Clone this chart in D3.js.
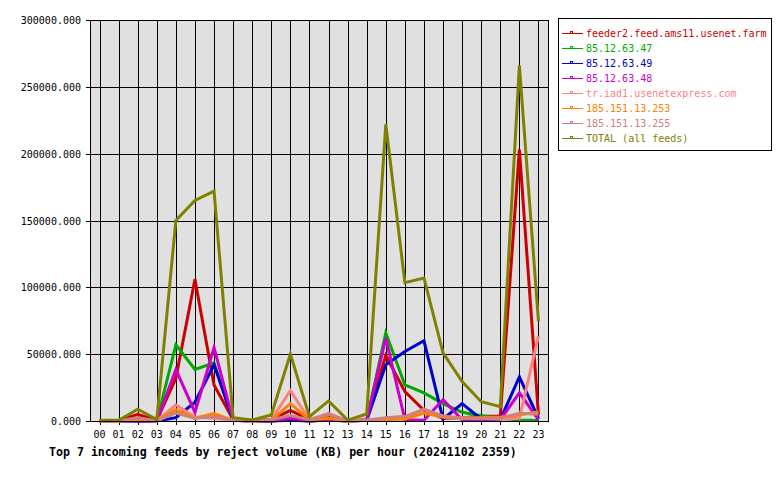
<!DOCTYPE html>
<html>
<head>
<meta charset="utf-8">
<script src="https://cdn.jsdelivr.net/npm/d3@7"></script>
<style>
  body { margin: 0; background: #fff; }
  text { font-family: "DejaVu Sans Mono", monospace; }
</style>
</head>
<body>
<svg id="chart" width="780" height="480"></svg>
<script>
// hours of the day
const hours = ['00','01','02','03','04','05','06','07','08','09','10','11',
               '12','13','14','15','16','17','18','19','20','21','22','23'];

const feedNames = ['feeder2.feed.ams11.usenet.farm', '85.12.63.47', '85.12.63.49', '85.12.63.48',
                   'tr.iad1.usenetexpress.com', '185.151.13.253', '185.151.13.255', 'TOTAL (all feeds)'];
const feedColors = ['#cc0000', '#00aa00', '#0000cc', '#cc00cc', '#ff8080', '#ff8000', '#cc8080', '#808000'];

// reject volume (KB) per hour
const feeder2 = [300, 300, 5000, 500, 32000, 106000, 27000, 1000, 300, 1000, 8000, 1000,
                 2500, 300, 1000, 49000, 22000, 8000, 2000, 2500, 3500, 3500, 203000, 4500];
const feed47  = [0, 0, 0, 0, 57000, 38500, 43500, 500, 0, 0, 1000, 0,
                 500, 0, 500, 66000, 27000, 21000, 13000, 6500, 4000, 2000, 700, 300];
const feed49  = [0, 0, 0, 0, 2500, 14000, 42000, 500, 0, 0, 500, 0,
                 1000, 0, 500, 42000, 52000, 60000, 1500, 13000, 1500, 1000, 33000, 2000];
const feed48  = [0, 0, 0, 0, 38500, 6500, 55000, 500, 0, 0, 2000, 0,
                 1000, 0, 500, 62000, 1000, 500, 16000, 1000, 500, 1000, 21000, 1000];
const iad1    = [0, 0, 1000, 0, 12000, 3000, 2000, 500, 0, 1000, 22700, 1000,
                 5800, 0, 500, 2000, 2500, 9000, 3000, 2000, 2000, 1500, 2000, 63500];
const feed253 = [0, 0, 500, 0, 8500, 2000, 5500, 500, 0, 500, 13000, 1000,
                 2000, 0, 500, 1000, 1500, 6000, 3000, 2500, 2500, 3000, 4500, 7000];
const feed255 = [0, 0, 2500, 0, 6000, 2000, 3200, 500, 0, 1000, 4000, 1000,
                 5000, 0, 500, 2500, 3500, 8500, 4000, 2000, 2000, 2000, 5800, 5000];
const total   = [500, 500, 8800, 1000, 150000, 165000, 172000, 2500, 700, 4500, 50000, 3200,
                 15000, 700, 5200, 222000, 103500, 107000, 51000, 29500, 14400, 10700, 266000, 74500];

const yTicks = [0, 50000, 100000, 150000, 200000, 250000, 300000];
const title = 'Top 7 incoming feeds by reject volume (KB) per hour (20241102 2359)';

const series = [feeder2, feed47, feed49, feed48, iad1, feed253, feed255, total];

const plot = { left: 90, right: 548, top: 20, bottom: 421 };

const svg = d3.select('#chart');

const xScale = d3.scaleLinear()
    .domain([-0.5, hours.length - 0.5])
    .range([plot.left, plot.right]);
const yScale = d3.scaleLinear()
    .domain([0, 300000])
    .range([plot.bottom, plot.top]);

// plot background
svg.append('rect')
    .attr('x', plot.left).attr('y', plot.top)
    .attr('width', plot.right - plot.left).attr('height', plot.bottom - plot.top)
    .attr('fill', '#e0e0e0');

// grid
const grid = svg.append('g').attr('shape-rendering', 'crispEdges');
grid.selectAll('line.v').data(hours).enter().append('line')
    .attr('x1', (d, i) => Math.round(xScale(i)) + 0.5)
    .attr('x2', (d, i) => Math.round(xScale(i)) + 0.5)
    .attr('y1', plot.top).attr('y2', plot.bottom + 4)
    .attr('stroke', '#000');
grid.selectAll('line.h').data(yTicks).enter().append('line')
    .attr('x1', plot.left - 4).attr('x2', plot.right)
    .attr('y1', d => Math.round(yScale(d)) + 0.5)
    .attr('y2', d => Math.round(yScale(d)) + 0.5)
    .attr('stroke', '#000');

// y labels
svg.append('g').selectAll('text').data(yTicks).enter().append('text')
    .attr('x', 81)
    .attr('y', d => yScale(d) + 4)
    .attr('text-anchor', 'end')
    .attr('font-size', '10px')
    .text(d => d3.format('.3f')(d));

// x labels
svg.append('g').selectAll('text').data(hours).enter().append('text')
    .attr('x', (d, i) => xScale(i))
    .attr('y', 438)
    .attr('text-anchor', 'middle')
    .attr('font-size', '10px')
    .text(d => d);

// the lines
const line = d3.line()
    .x((d, i) => xScale(i))
    .y(d => yScale(d));

svg.append('g').selectAll('path').data(series).enter().append('path')
    .attr('d', line)
    .attr('fill', 'none')
    .attr('stroke', (d, i) => feedColors[i])
    .attr('stroke-width', 3)
    .attr('stroke-linejoin', 'miter');

// plot border
svg.append('rect')
    .attr('x', plot.left + 0.5).attr('y', plot.top + 0.5)
    .attr('width', plot.right - plot.left).attr('height', plot.bottom - plot.top)
    .attr('fill', 'none').attr('stroke', '#000')
    .attr('shape-rendering', 'crispEdges');

// legend
const legend = svg.append('g');
legend.append('rect')
    .attr('x', 558.5).attr('y', 18.5)
    .attr('width', 213).attr('height', 132)
    .attr('fill', '#fff').attr('stroke', '#000')
    .attr('shape-rendering', 'crispEdges');

const rows = legend.selectAll('g.row').data(feedNames).enter().append('g')
    .attr('transform', (d, i) => 'translate(0,' + (33 + i * 15.05) + ')');
rows.append('line')
    .attr('x1', 562).attr('x2', 583).attr('y1', 0.5).attr('y2', 0.5)
    .attr('stroke', (d, i) => feedColors[i])
    .attr('shape-rendering', 'crispEdges');
rows.append('rect')
    .attr('x', 570.5).attr('y', -1.5).attr('width', 2).attr('height', 2)
    .attr('fill', 'none')
    .attr('stroke', (d, i) => feedColors[i])
    .attr('shape-rendering', 'crispEdges');
rows.append('text')
    .attr('x', 586).attr('y', 4)
    .attr('font-size', '10px')
    .attr('fill', (d, i) => feedColors[i])
    .text(d => d);

// title
svg.append('text')
    .attr('x', 49).attr('y', 456)
    .attr('font-size', '11.6px')
    .attr('font-weight', 'bold')
    .text(title);
</script>
</body>
</html>
